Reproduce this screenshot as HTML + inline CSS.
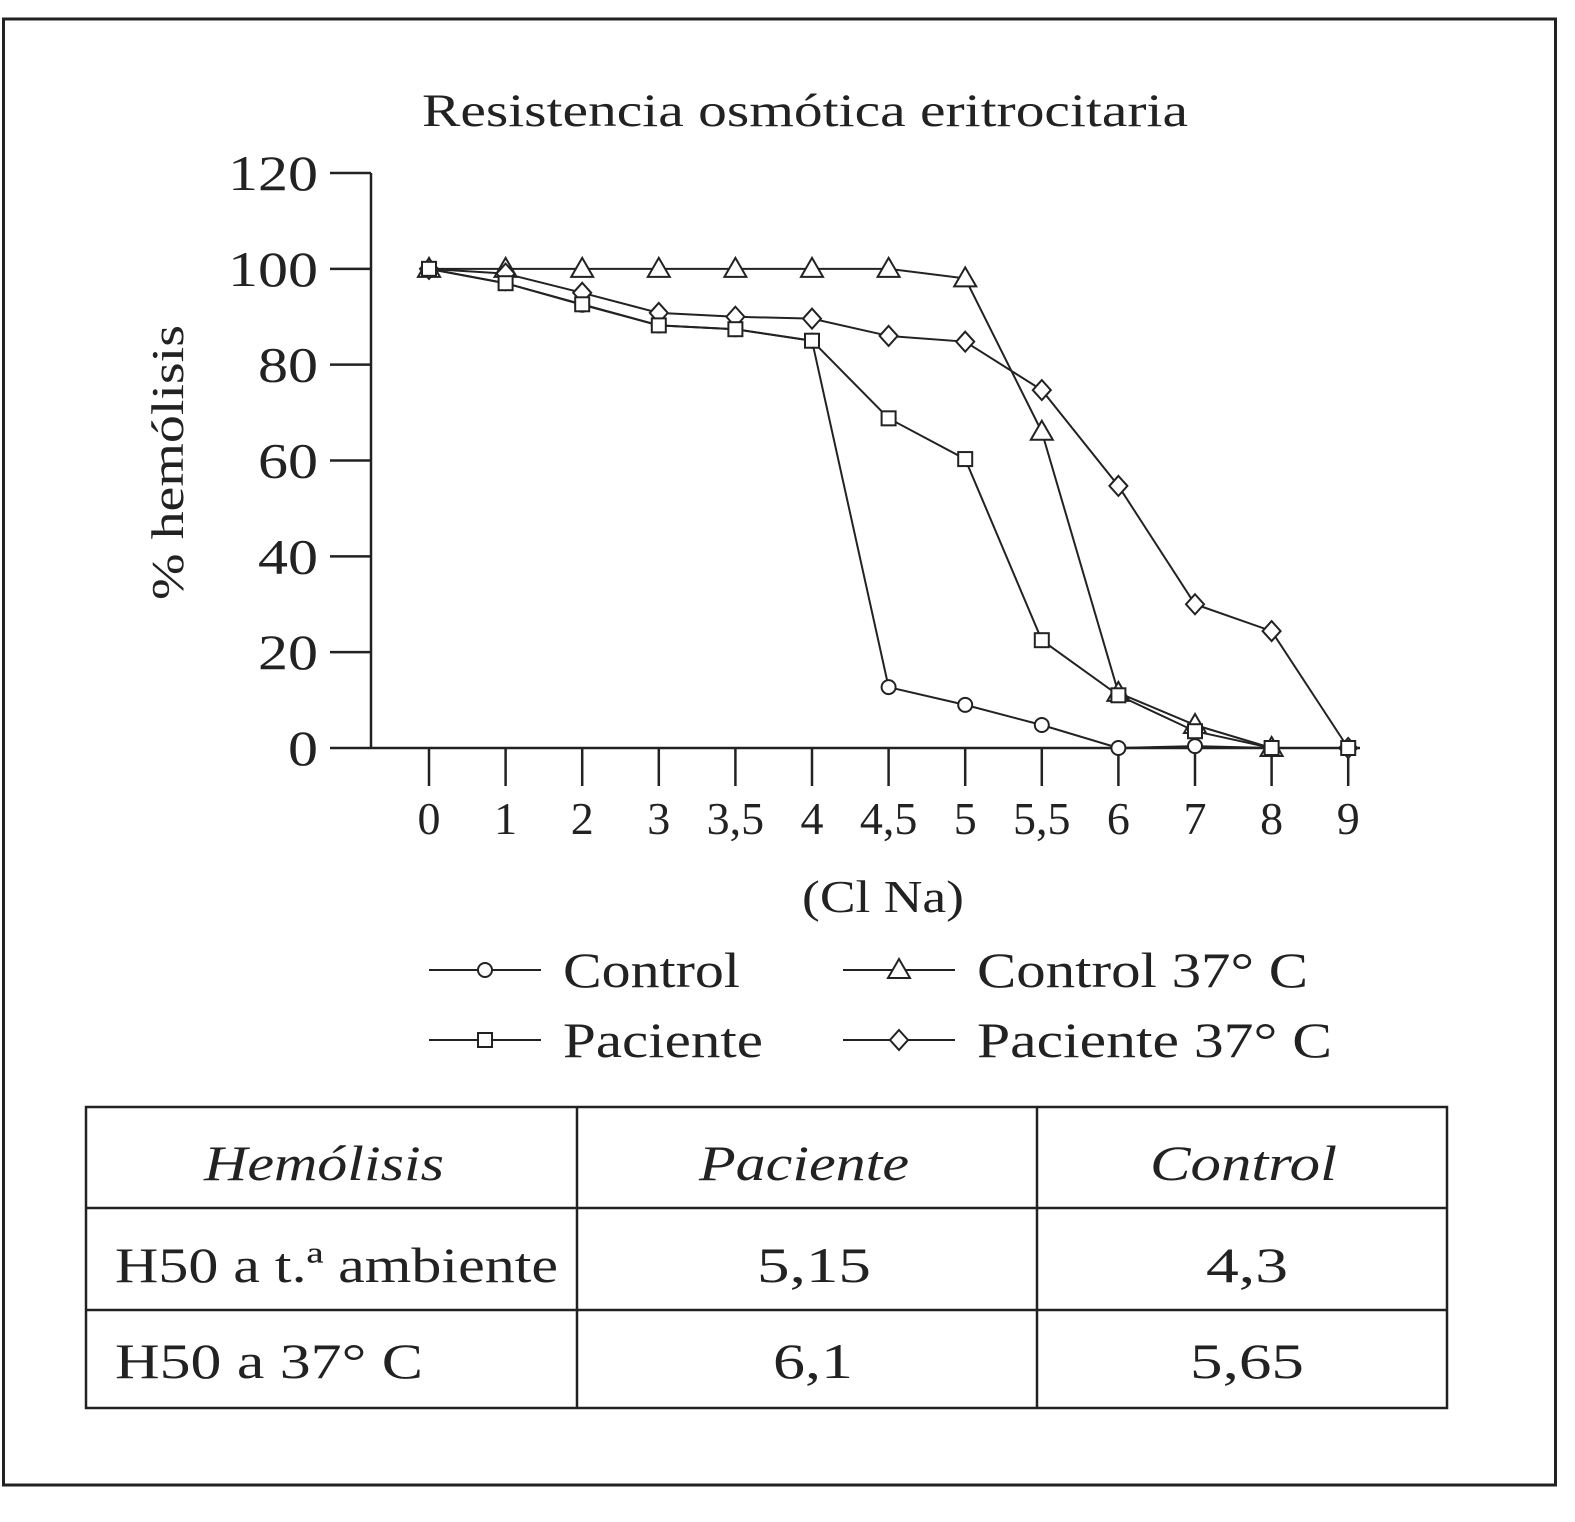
<!DOCTYPE html>
<html><head><meta charset="utf-8"><style>
body{margin:0;background:#fff}
svg text{font-family:"Liberation Serif",serif;fill:#222}
</style></head><body>
<svg width="1575" height="1517" viewBox="0 0 1575 1517">
<rect x="3.5" y="19" width="1552" height="1466" fill="#fff" stroke="#222" stroke-width="3"/>
<text x="422" y="126" font-size="47" textLength="766" lengthAdjust="spacingAndGlyphs">Resistencia osmótica eritrocitaria</text>
<g id="axes"></g>
<g id="series"></g>
<text transform="translate(183,600) rotate(-90)" font-size="46" textLength="275" lengthAdjust="spacingAndGlyphs">% hemólisis</text>
<text x="802" y="912" font-size="46" textLength="162" lengthAdjust="spacingAndGlyphs">(Cl Na)</text>
<g id="legend"></g>
<g stroke="#222" stroke-width="2.5" fill="none">
<rect x="86" y="1107" width="1361" height="301"/>
<line x1="86" y1="1208" x2="1447" y2="1208"/>
<line x1="86" y1="1310" x2="1447" y2="1310"/>
<line x1="577" y1="1107" x2="577" y2="1408"/>
<line x1="1037" y1="1107" x2="1037" y2="1408"/>
</g>
<g font-size="50">
<text x="204" y="1180" font-style="italic" textLength="240" lengthAdjust="spacingAndGlyphs">Hemólisis</text>
<text x="699" y="1180" font-style="italic" textLength="210" lengthAdjust="spacingAndGlyphs">Paciente</text>
<text x="1150" y="1180" font-style="italic" textLength="187" lengthAdjust="spacingAndGlyphs">Control</text>
<text x="115" y="1282" textLength="443" lengthAdjust="spacingAndGlyphs">H50 a t.ª ambiente</text>
<text x="757" y="1282" textLength="114" lengthAdjust="spacingAndGlyphs">5,15</text>
<text x="1206" y="1282" textLength="82" lengthAdjust="spacingAndGlyphs">4,3</text>
<text x="115" y="1378" textLength="308" lengthAdjust="spacingAndGlyphs">H50 a 37° C</text>
<text x="773" y="1378" textLength="80" lengthAdjust="spacingAndGlyphs">6,1</text>
<text x="1190" y="1378" textLength="114" lengthAdjust="spacingAndGlyphs">5,65</text>
</g>
</svg>
<script>
const categories=["0","1","2","3","3,5","4","4,5","5","5,5","6","7","8","9"];
const yTicks=[0,20,40,60,80,100,120];
const control=[100,97,92.5,88.2,87.4,85,12.7,9,4.8,0,0.4,0,null];
const paciente=[100,97,92.6,88.2,87.4,85,68.8,60.3,22.5,11,3.5,0,0];
const control37=[100,100,100,100,100,100,100,98,66,11.5,4.8,0,null];
const paciente37=[100,99,95,90.8,90,89.6,86,84.8,74.7,54.7,30,24.4,0];
const NS="http://www.w3.org/2000/svg";
const x0=429,dx=76.6,yBase=748,yPer=575/120;
function X(i){return x0+i*dx}
function Y(v){return yBase-v*yPer}
function mk(tag,attrs,parent){const e=document.createElementNS(NS,tag);for(const k in attrs)e.setAttribute(k,attrs[k]);parent.appendChild(e);return e}
const axes=document.getElementById('axes');
let e=mk('line',{x1:371,y1:Y(120),x2:371,y2:yBase,stroke:'#222','stroke-width':2.5},axes);

e=mk('line',{x1:371,y1:yBase,x2:1360,y2:yBase,stroke:'#222','stroke-width':2.5},axes);

yTicks.forEach(v=>{
 let t=mk('line',{x1:330,y1:Y(v),x2:371,y2:Y(v),stroke:'#222','stroke-width':2.5},axes);
 
 const s=String(v);
 const w=s.length*30;
 let l=mk('text',{x:318-w,y:Y(v)+17,'font-size':50,textLength:w,lengthAdjust:'spacingAndGlyphs'},axes);l.textContent=s;
 
});
categories.forEach((c,i)=>{
 let t=mk('line',{x1:X(i),y1:yBase,x2:X(i),y2:yBase+38,stroke:'#222','stroke-width':2.5},axes);
 
 let l=mk('text',{x:X(i),y:834,'font-size':46,'text-anchor':'middle'},axes);l.textContent=c;
 
});
function marker(type,x,y,g){
 let m;
 if(type==='circle')m=mk('circle',{cx:x,cy:y,r:7},g);
 else if(type==='square')m=mk('rect',{x:x-7,y:y-7,width:14,height:14},g);
 else if(type==='triangle')m=mk('polygon',{points:`${x},${y-11} ${x-11},${y+8} ${x+11},${y+8}`},g);
 else m=mk('polygon',{points:`${x},${y-10} ${x+9},${y} ${x},${y+10} ${x-9},${y}`},g);
 m.setAttribute('fill','#fff');m.setAttribute('stroke','#222');m.setAttribute('stroke-width',2);
 return m;
}
const ser=document.getElementById('series');
function drawSeries(data,type,name){
 const g=mk('g',{},ser);
 
 
 const pts=[];data.forEach((v,i)=>{if(v!==null)pts.push([X(i),Y(v)])});
 const p=mk('polyline',{points:pts.map(p=>p.join(',')).join(' '),fill:'none',stroke:'#222','stroke-width':2},g);
 
 pts.forEach(q=>{const m=marker(type,q[0],q[1],g);});
}
drawSeries(control,'circle','control-series');
drawSeries(control37,'triangle','control-37-series');
drawSeries(paciente37,'diamond','paciente-37-series');
drawSeries(paciente,'square','paciente-series');
const leg=document.getElementById('legend');
[["Control",'circle',429,970,177],["Paciente",'square',429,1040,200],["Control 37° C",'triangle',843,970,331],["Paciente 37° C",'diamond',843,1040,355]].forEach(d=>{
 const g=mk('g',{},leg);
 
 
 mk('line',{x1:d[2],y1:d[3],x2:d[2]+112,y2:d[3],stroke:'#222','stroke-width':2},g);
 marker(d[1],d[2]+56,d[3],g);
 const t=mk('text',{x:d[2]+134,y:d[3]+17,'font-size':50,textLength:d[4],lengthAdjust:'spacingAndGlyphs'},g);t.textContent=d[0];
});
</script>
</body></html>
